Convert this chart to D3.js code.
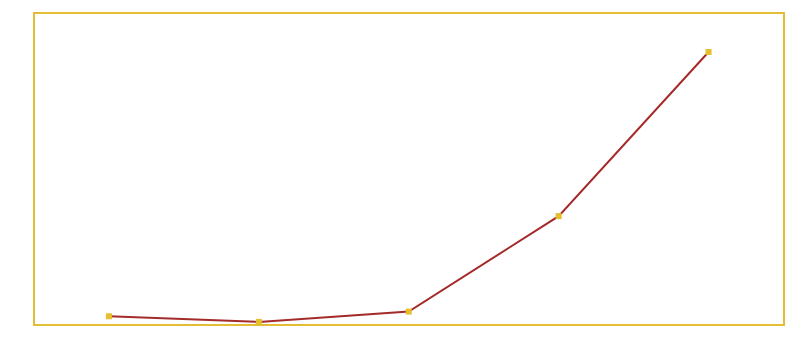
<!DOCTYPE html>
<html>
<head>
<meta charset="utf-8">
<script src="https://cdn.jsdelivr.net/npm/d3@7"></script>
<style>
  body { margin: 0; background: #fff; }
</style>
</head>
<body>
<div id="chart"></div>
<script>
const categories = ["A", "B", "C", "D", "E"]
const values = [2.8, 1.0, 4.3, 34.9, 87.5]

const width = 786
const height = 338
const padding = { top: 13, right: 2, bottom: 13, left: 34 }

const svg = d3.select("#chart")
  .append("svg")
  .attr("width", width)
  .attr("height", height)

const xScale = d3.scaleBand()
  .domain(categories)
  .range([padding.left, width - padding.right - 0.5])

const yScale = d3.scaleLinear()
  .domain([0, 100])
  .range([height - padding.bottom, padding.top])

// frame
svg.append("rect")
  .attr("x", padding.left)
  .attr("y", padding.top)
  .attr("width", width - padding.left - padding.right)
  .attr("height", height - padding.top - padding.bottom)
  .attr("fill", "none")
  .attr("stroke", "#e3bd33")
  .attr("stroke-width", 2)

const line = d3.line()
  .x((d, i) => xScale(categories[i]) + xScale.bandwidth() / 2)
  .y(d => yScale(d))

svg.append("path")
  .datum(values)
  .attr("d", line)
  .attr("fill", "none")
  .attr("stroke", "#a52a2a")
  .attr("stroke-width", 2)

const size = 6
svg.selectAll(".marker")
  .data(values)
  .enter().append("rect")
  .attr("class", "marker")
  .attr("x", (d, i) => xScale(categories[i]) + xScale.bandwidth() / 2 - size / 2)
  .attr("y", d => yScale(d) - size / 2)
  .attr("width", size)
  .attr("height", size)
  .attr("fill", "#e6bf2e")
</script>
</body>
</html>
